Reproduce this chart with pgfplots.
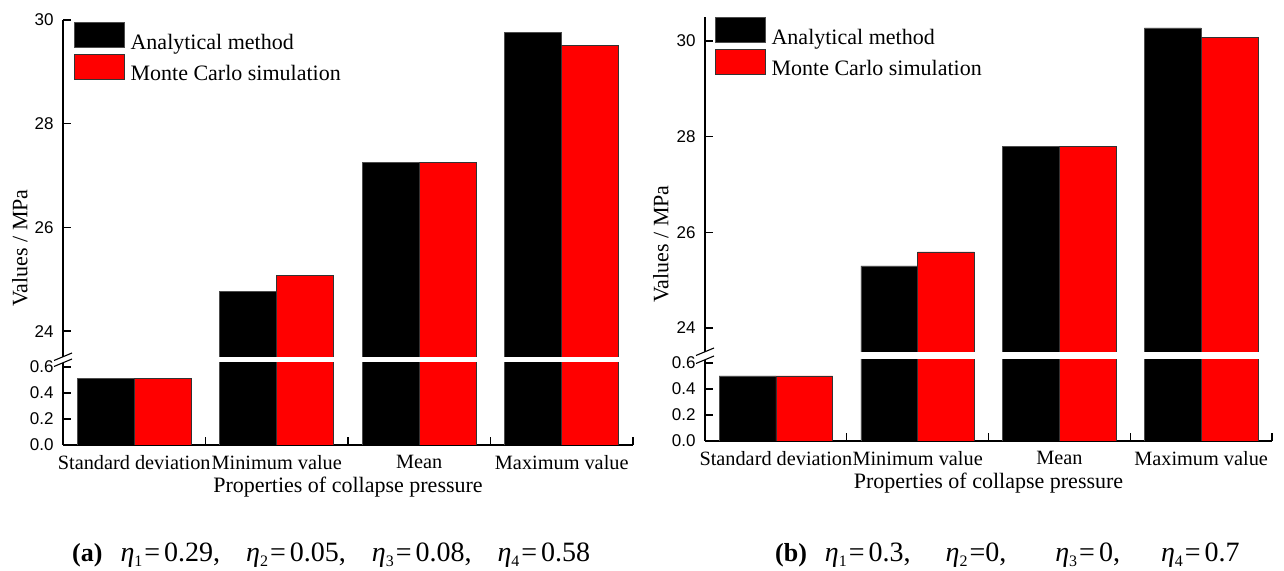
\documentclass[border=0pt]{standalone}
\usepackage{fontspec}
\setmainfont{Liberation Serif}
\newfontfamily\arial{Liberation Sans}
\usepackage{pgfplots}
\usepackage{pgfplotstable}
\pgfplotsset{compat=1.18}
\definecolor{myred}{RGB}{255,0,0}

\pgfplotstableread{
x A B
0 0.51 0.51
1 24.76 25.08
2 27.25 27.26
3 29.76 29.51
}\dataa
\pgfplotstableread{
x A B
0 0.50 0.50
1 25.30 25.59
2 27.79 27.79
3 30.27 30.08
}\datab

\pgfplotsset{
  base/.style={
    scale only axis, anchor=south west, xmin=-0.5, xmax=3.5,
    axis line style={-, line width=1.3bp},
    x axis line style={-}, y axis line style={-},
    tick align=inside, major tick length=8bp, minor tick length=8bp,
    every tick/.style={black, line width=1.3bp},
    /pgf/number format/assume math mode=true,
    yticklabel style={font=\arial\fontsize{17bp}{17bp}\selectfont, xshift=-6bp},
    xticklabel style={font=\fontsize{20.3bp}{22bp}\selectfont, yshift=-7bp},
    clip=true,
  },
  upper/.style={base, axis y line*=left, axis x line=none, xtick=\empty,
    ytick={24,26,28,30}, ymin=23.5,
    legend style={at={(axis description cs:0,1)}, anchor=north west,
      draw=none, fill=none, inner sep=0pt, outer sep=0pt, row sep=3bp,
      font=\fontsize{22bp}{24bp}\selectfont, nodes={inner sep=0pt},
      /tikz/every odd column/.append style={column sep=6bp},
      /tikz/every even column/.append style={text depth=0pt, yshift=5bp}},
    legend cell align=left,
  },
  lower/.style={base, axis y line*=left, axis x line*=bottom,
    ymin=0, ytick={0,0.2,0.4,0.6},
    yticklabel style={/pgf/number format/.cd, fixed, fixed zerofill, precision=1},
    xtick={0.5,1.5,2.5,3.5}, xticklabels={,,,},
    extra x ticks={0,1,2,3},
    extra x tick labels={Standard deviation, Minimum value, Mean, Maximum value},
    extra x tick style={major tick length=0pt},
    xlabel={Properties of collapse pressure},
    xlabel style={font=\fontsize{22bp}{24bp}\selectfont},
  },
  barA/.style={ybar, bar width=0.4, bar shift=-0.2, fill=black, draw=black!70, line width=0.6bp,
    legend image code/.code={\draw[##1] (0bp,0bp) rectangle (50bp,25bp);}},
  barB/.style={ybar, bar width=0.4, bar shift=0.2, fill=myred, draw=black!80, line width=0.6bp,
    legend image code/.code={\draw[##1] (0bp,0bp) rectangle (50bp,25bp);}},
}
\tikzset{eq/.style={font=\fontsize{28bp}{30bp}\selectfont, inner sep=0pt}}
\newcommand\myeta[1]{{\fontsize{28bp}{30bp}\selectfont\textit{η}}\raisebox{-5bp}{\fontsize{16bp}{16bp}\selectfont #1}}
\newcommand\eqs{\hspace{2bp}=\hspace{4bp}}

\begin{document}
\begin{tikzpicture}[x=1bp,y=1bp]
\path[use as bounding box] (0,0) rectangle (1284,571);

% ---------- panel (a) ----------
\begin{axis}[upper, at={(63bp,214bp)}, width=570bp, height=337bp, ymax=30,
  legend style={xshift=11bp, yshift=-2bp}]
  \addplot[barA, skip coords between index={0}{1}] table[x=x, y=A] {\dataa};
  \addlegendentry{Analytical method}
  \addplot[barB, skip coords between index={0}{1}] table[x=x, y=B] {\dataa};
  \addlegendentry{Monte Carlo simulation}
\end{axis}
\begin{axis}[lower, at={(63bp,126bp)}, width=570bp, height=82bp, ymax=0.631]
  \addplot[barA] table[x=x, y=A] {\dataa};
  \addplot[barB] table[x=x, y=B] {\dataa};
\end{axis}
\draw[line width=1.1bp] (54,210.5) -- (72,218);
\draw[line width=1.1bp] (54,204.5) -- (72,212);
\node[rotate=90, font=\fontsize{22bp}{24bp}\selectfont] at (20,323) {Values / MPa};

% ---------- panel (b) ----------
\begin{axis}[upper, at={(705bp,219bp)}, width=567bp, height=335bp, ymax=30.5,
  legend style={xshift=10bp, yshift=0bp}]
  \addplot[barA, skip coords between index={0}{1}] table[x=x, y=A] {\datab};
  \addlegendentry{Analytical method}
  \addplot[barB, skip coords between index={0}{1}] table[x=x, y=B] {\datab};
  \addlegendentry{Monte Carlo simulation}
\end{axis}
\begin{axis}[lower, at={(705bp,130bp)}, width=567bp, height=81bp, ymax=0.623]
  \addplot[barA] table[x=x, y=A] {\datab};
  \addplot[barB] table[x=x, y=B] {\datab};
\end{axis}
\draw[line width=1.1bp] (696,215.5) -- (714,223);
\draw[line width=1.1bp] (696,207.5) -- (714,215);
\node[rotate=90, font=\fontsize{22bp}{24bp}\selectfont] at (661,327) {Values / MPa};

% ---------- captions ----------
\node[anchor=base west, eq] at (72,9)
  {{\fontsize{26bp}{28bp}\selectfont\textbf{(a)}}\hspace{18bp}\myeta{1}\eqs 0.29,\hspace{26bp}\myeta{2}\eqs 0.05,\hspace{26bp}\myeta{3}\eqs 0.08,\hspace{26bp}\myeta{4}\eqs 0.58};
\node[anchor=base west, eq] at (775,9)
  {{\fontsize{26bp}{28bp}\selectfont\textbf{(b)}}\hspace{18bp}\myeta{1}\eqs 0.3,\hspace{35bp}\myeta{2}\hspace{2bp}=0,\hspace{49bp}\myeta{3}\eqs 0,\hspace{41bp}\myeta{4}\eqs 0.7};
\end{tikzpicture}
\end{document}
